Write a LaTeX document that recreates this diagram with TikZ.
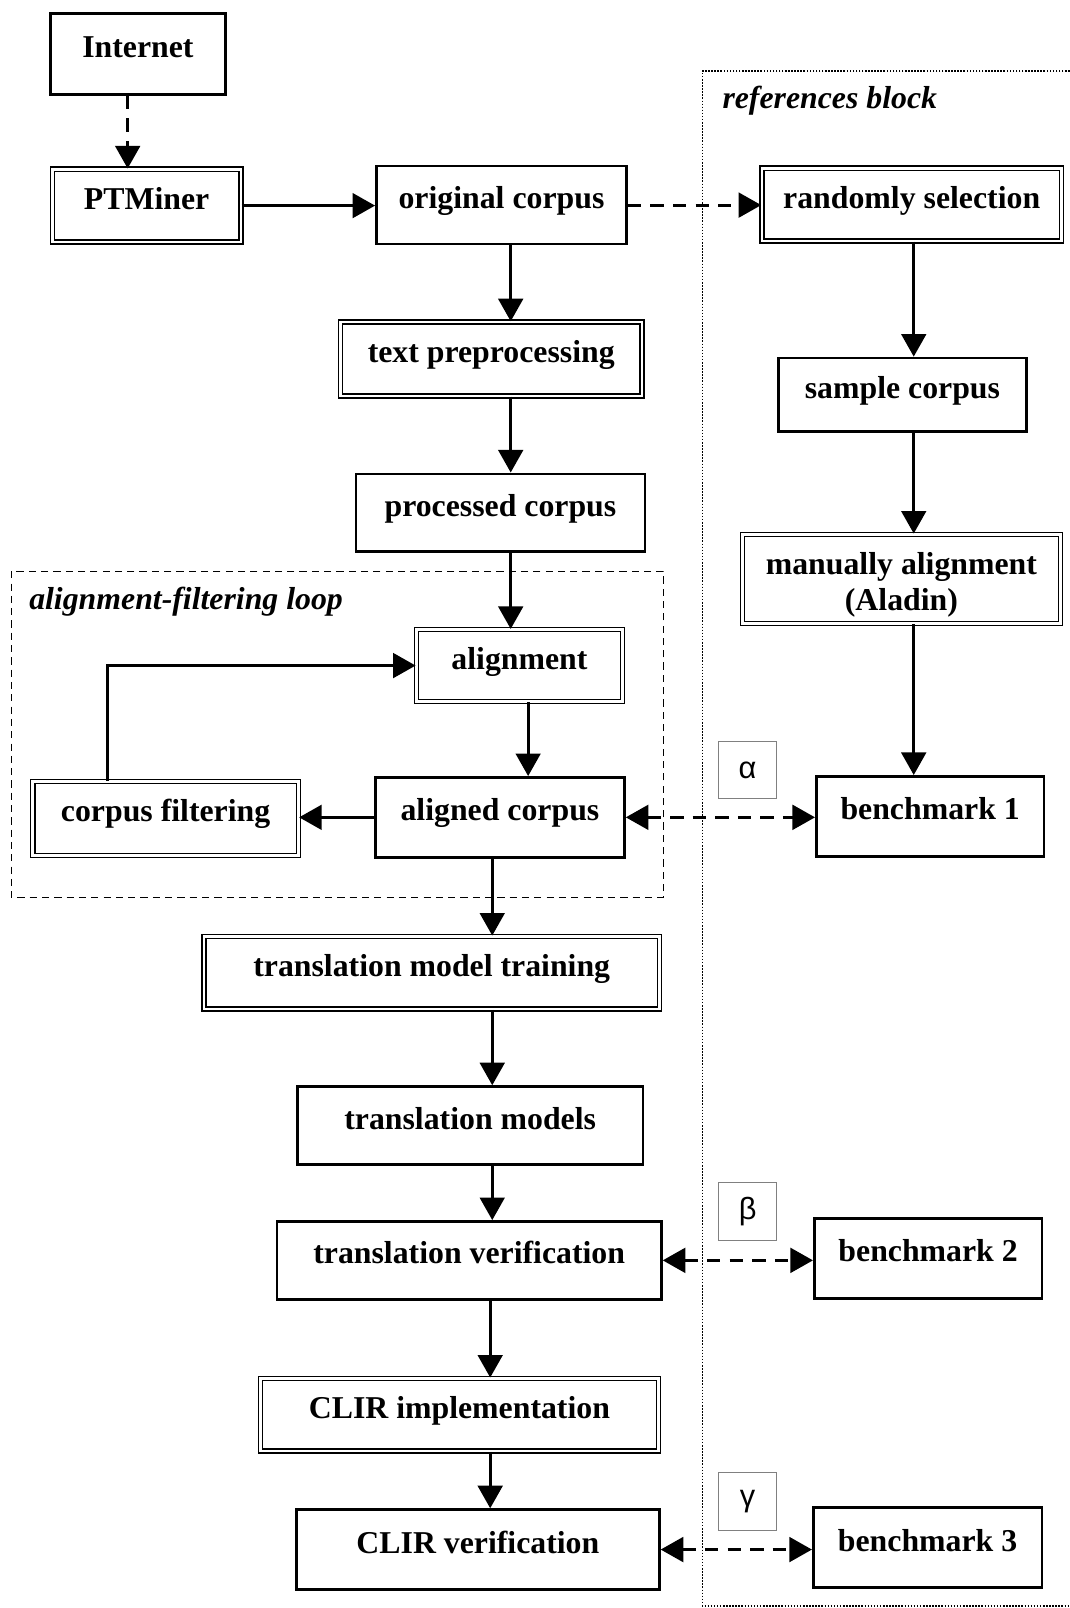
\documentclass[tikz,border=0pt]{standalone}
\usepackage{fontspec}
\setmainfont{Liberation Serif}
\newfontfamily\greekfont{Liberation Sans}
\usetikzlibrary{arrows.meta}

\begin{document}
\begin{tikzpicture}[x=1pt, y=-1pt, >={Triangle[length=22pt,width=24pt]}, box/.style = {shape=rectangle, draw, line width=2.5pt, align=center, font=\fontsize{31}{35}\selectfont\bfseries, text height=24pt, text depth=17pt, minimum height=76pt}, dbox/.style = {box, double, line width=1.4pt, double distance=2.6pt}, tag/.style = {shape=rectangle, draw=gray, line width=1pt, minimum width=56pt, minimum height=56pt, font=\fontsize{30}{34}\greekfont}, flow/.style = {line width=3pt, ->}, dflow/.style = {flow, dash pattern=on 13pt off 9pt}, blocktitle/.style = {anchor=west, font=\fontsize{31}{35}\selectfont\bfseries\itshape}]
	\useasboundingbox (0,0) rectangle (1043,1568);
	\draw[line width=1.2pt, dash pattern=on 7pt off 5pt] (11,557) rectangle (647,875);
	\draw[line width=1.5pt, dash pattern=on 1.5pt off 1.5pt] (1043,69) -- (685,69) -- (685,1566) -- (1043,1566);
	\node[blocktitle] (reftitle) at (701,98) {references block};
	\node[blocktitle] (looptitle) at (25,587) {alignment-filtering loop};
	\node[box, minimum width=171pt, minimum height=79pt] (inet) at (134.5,52.5) {Internet};
	\node[dbox, minimum width=184pt, minimum height=71pt] (ptm) at (143,200.5) {PTMiner};
	\node[box, minimum width=244pt] (orig) at (489,200) {original corpus};
	\node[dbox, minimum width=292pt, minimum height=71pt] (rand) at (889,199.5) {randomly selection};
	\node[dbox, minimum width=294pt, minimum height=72pt] (prep) at (479,350) {text preprocessing};
	\node[box, minimum width=242pt, minimum height=72pt] (sample) at (880,385) {sample corpus};
	\node[box, minimum width=282pt] (proc) at (488,500) {processed corpus};
	\node[dbox, minimum width=310pt, minimum height=87pt, text height=70pt, text depth=8pt] (manual) at (879,564.5) {manually alignment\\(Aladin)};
	\node[dbox, minimum width=201pt, minimum height=70pt] (align) at (506.5,649) {alignment};
	\node[dbox, minimum width=259pt, minimum height=72pt] (filter) at (161.5,798) {corpus filtering};
	\node[box, minimum width=243pt, minimum height=78pt] (aligned) at (487.5,797) {aligned corpus};
	\node[box, minimum width=222pt, minimum height=78pt] (bench1) at (907,796) {benchmark 1};
	\node[tag] (alpha) at (729,751) {α};
	\node[dbox, minimum width=444pt, minimum height=71pt] (train) at (421,948.5) {translation model training};
	\node[box, minimum width=337pt] (models) at (458.5,1097.5) {translation models};
	\node[box, minimum width=375pt] (verif) at (457.5,1229) {translation verification};
	\node[box, minimum width=222pt, minimum height=78pt] (bench2) at (905,1227) {benchmark 2};
	\node[tag] (beta) at (729,1181.5) {β};
	\node[dbox, minimum width=388pt, minimum height=71pt] (clir) at (448,1379.5) {CLIR implementation};
	\node[box, minimum width=354pt, minimum height=78pt] (clirv) at (466,1511) {CLIR verification};
	\node[box, minimum width=223pt, minimum height=78pt] (bench3) at (904.5,1509) {benchmark 3};
	\node[tag] (gamma) at (729,1464) {γ};
	\draw[dflow] ([xshift=-10pt]inet.south) -- ([xshift=-10pt]inet.south |- ptm.north);
	\draw[flow] (ptm.east) -- (ptm.east -| orig.west);
	\draw[dflow] (orig.east) -- (orig.east -| rand.west);
	\draw[flow] ([xshift=9pt]orig.south) -- ([xshift=9pt]orig.south |- prep.north);
	\draw[flow] ([xshift=19pt]prep.south) -- ([xshift=19pt]prep.south |- proc.north);
	\draw[flow] ([xshift=10pt]proc.south) -- ([xshift=10pt]proc.south |- align.north);
	\draw[flow] ([xshift=8.5pt]align.south) -- ([xshift=8.5pt]align.south |- aligned.north);
	\draw[flow] (aligned.west) -- (aligned.west -| filter.east);
	\draw[flow] ([xshift=-56.5pt]filter.north) |- (align.west);
	\draw[flow] ([xshift=-7.5pt]aligned.south) -- ([xshift=-7.5pt]aligned.south |- train.north);
	\draw[flow] ([xshift=59pt]train.south) -- ([xshift=59pt]train.south |- models.north);
	\draw[flow] ([xshift=21.5pt]models.south) -- ([xshift=21.5pt]models.south |- verif.north);
	\draw[flow] ([xshift=20.5pt]verif.south) -- ([xshift=20.5pt]verif.south |- clir.north);
	\draw[flow] ([xshift=30pt]clir.south) -- ([xshift=30pt]clir.south |- clirv.north);
	\draw[flow] ([xshift=2pt]rand.south) -- ([xshift=2pt]rand.south |- sample.north);
	\draw[flow] ([xshift=11pt]sample.south) -- ([xshift=11pt]sample.south |- manual.north);
	\draw[flow] ([xshift=12pt]manual.south) -- ([xshift=12pt]manual.south |- bench1.north);
	\draw[dflow, <->] (aligned.east) -- (aligned.east -| bench1.west);
	\draw[dflow, <->] (verif.east) -- (verif.east -| bench2.west);
	\draw[dflow, <->] (clirv.east) -- (clirv.east -| bench3.west);
\end{tikzpicture}
\end{document}
